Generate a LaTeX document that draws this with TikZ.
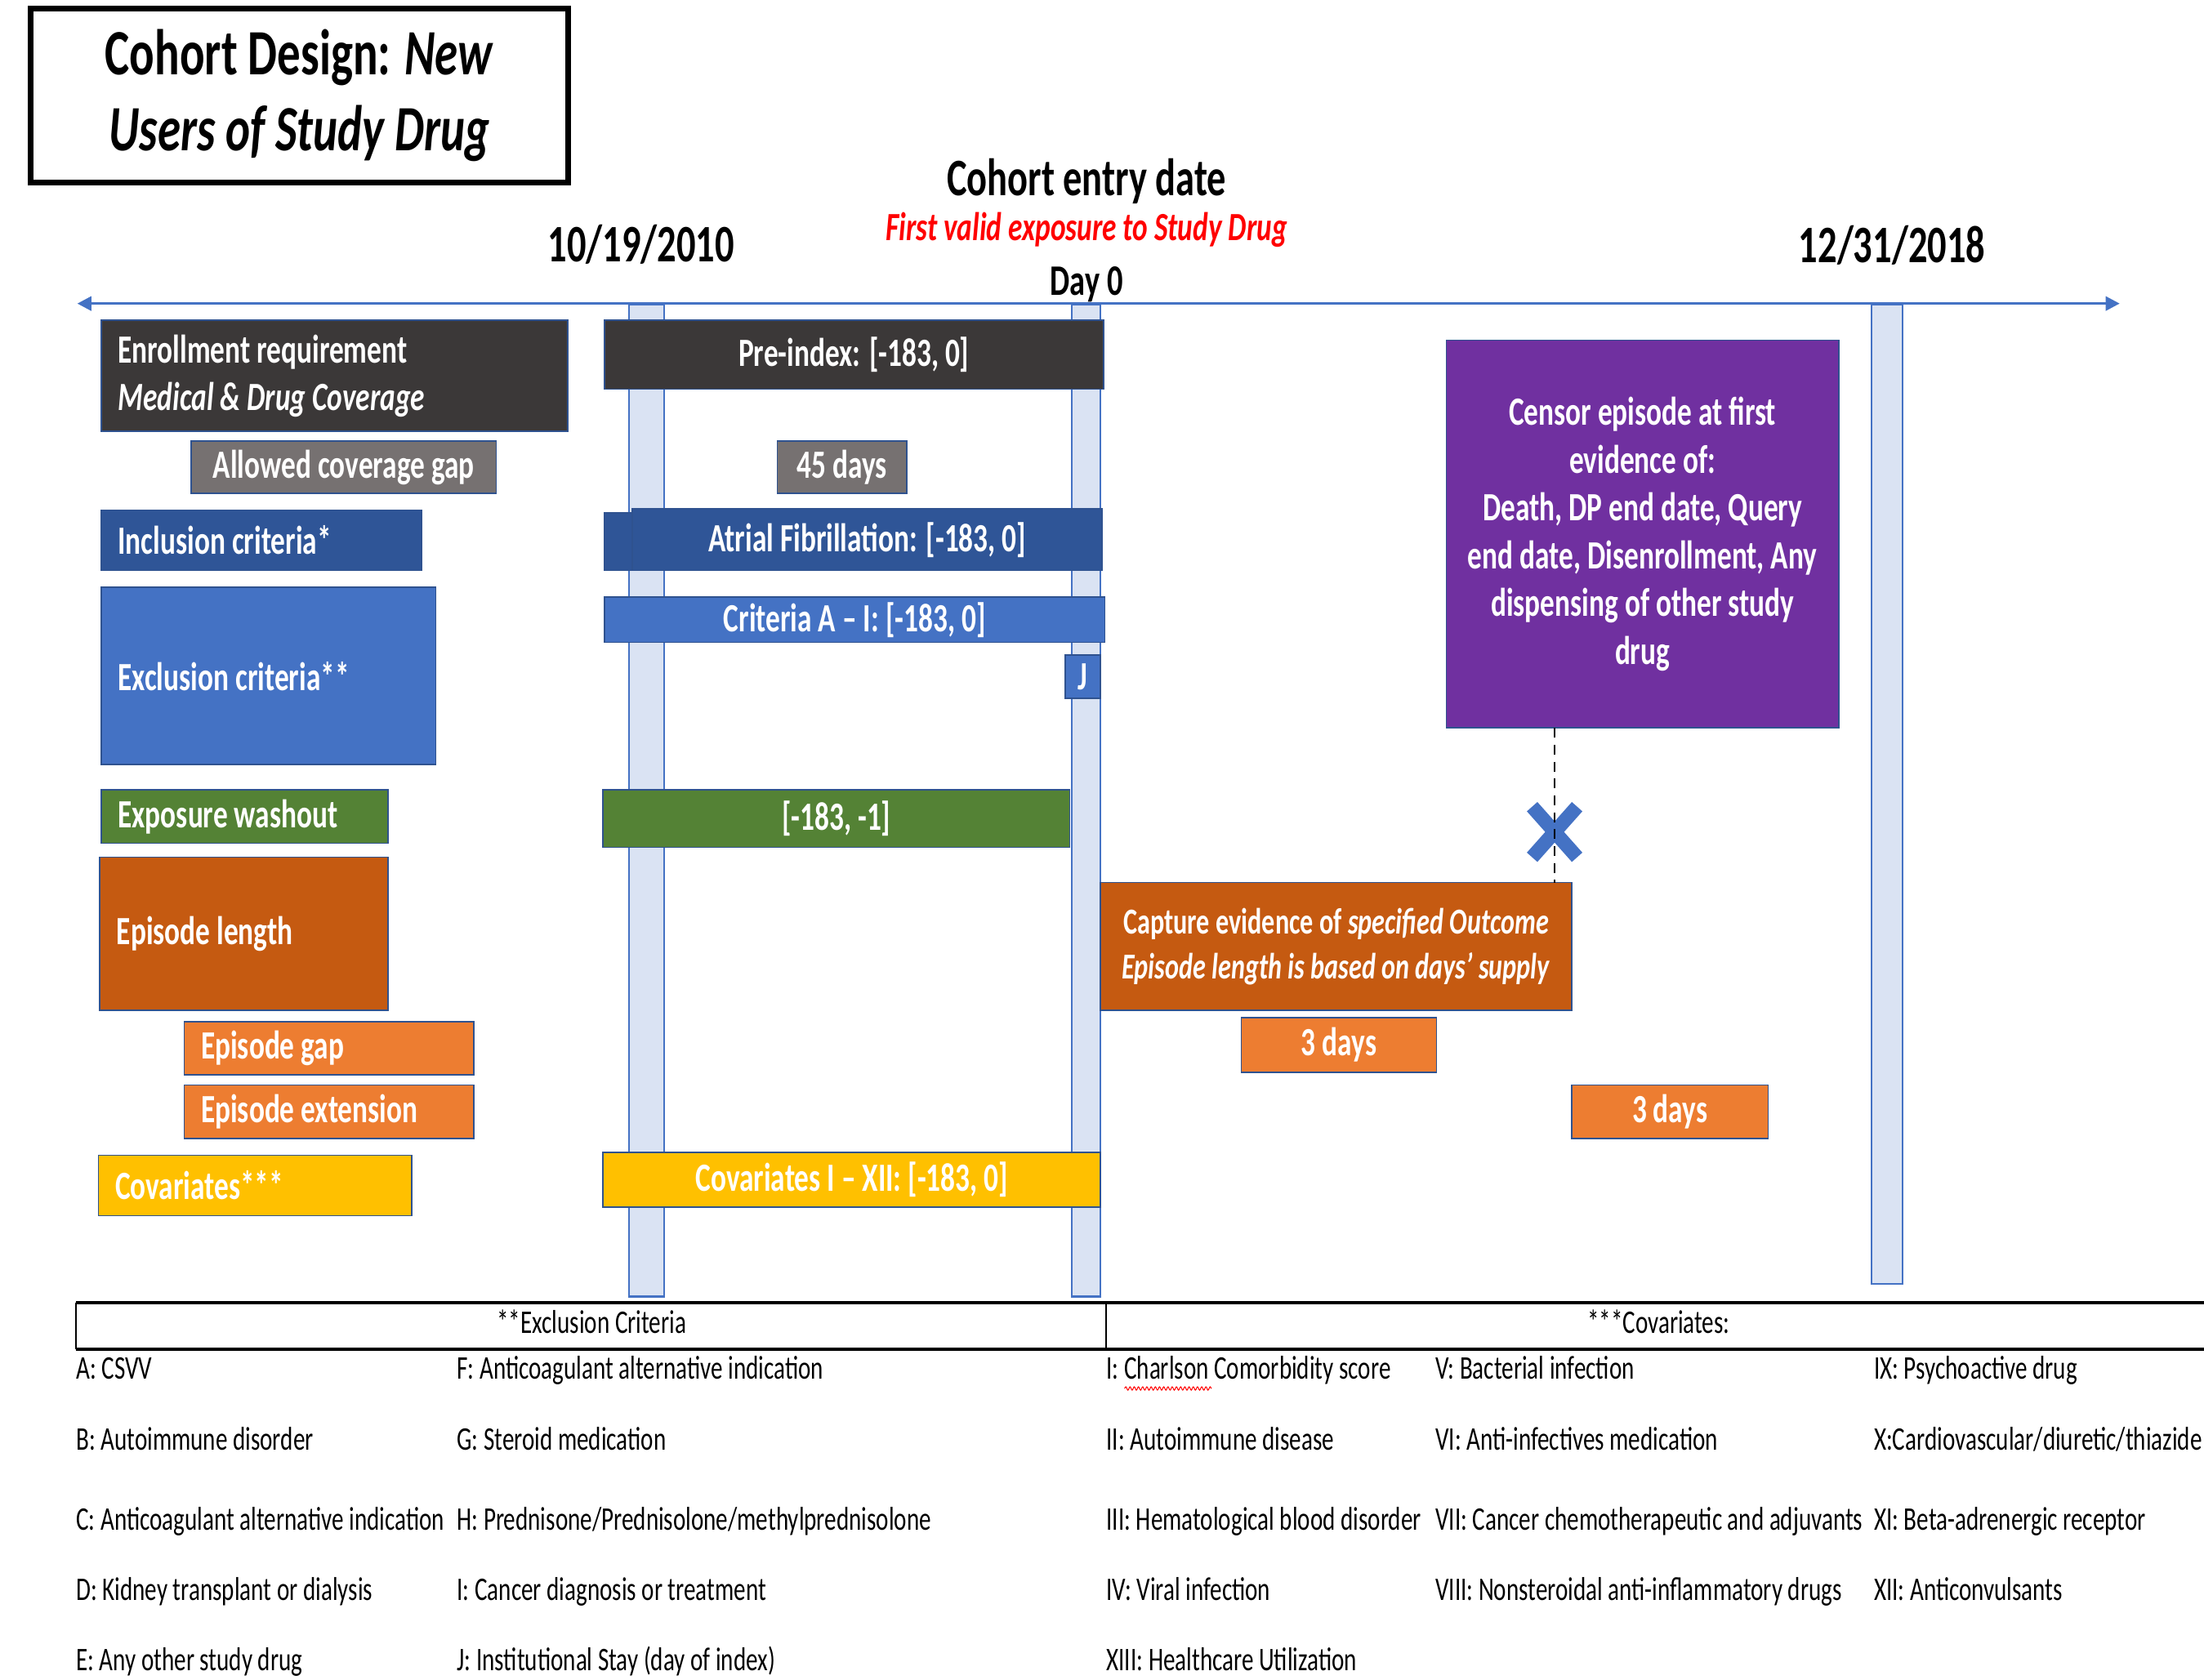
\documentclass[tikz,border=0pt]{standalone}
\usepackage{fontspec}
\setmainfont{Carlito}[FakeStretch=0.72]
\usepackage{tikz}
\usetikzlibrary{arrows.meta, decorations.pathmorphing}

\definecolor{axisblue}{HTML}{4472C4}
\definecolor{edgeblue}{HTML}{2F528F}
\definecolor{barfill}{HTML}{DAE3F3}
\definecolor{darkbox}{HTML}{3B3838}
\definecolor{graybox}{HTML}{767171}
\definecolor{navybox}{HTML}{2F5597}
\definecolor{bluebox}{HTML}{4472C4}
\definecolor{greenbox}{HTML}{548235}
\definecolor{rustbox}{HTML}{C55A11}
\definecolor{orangebox}{HTML}{ED7D31}
\definecolor{goldbox}{HTML}{FFC000}
\definecolor{purplebox}{HTML}{7030A0}
\definecolor{redtext}{HTML}{FF0000}

\newcommand{\boxfont}{\fontsize{28.5}{34}\selectfont\bfseries}
\newcommand{\legfont}{\fontsize{23.5}{28}\selectfont}
\newcommand{\datefont}{\fontsize{37.5}{44}\selectfont\bfseries}

\begin{document}
\begin{tikzpicture}[x=1pt, y=-1pt,
    box/.style={rectangle, draw=edgeblue, line width=1pt, inner sep=0pt, outer sep=0pt, text=white, font=\boxfont, anchor=north west},
    lbox/.style={box, align=flush left},
    vbar/.style={rectangle, draw=axisblue, fill=barfill, line width=1.2pt, inner sep=0pt, anchor=north west},
    leg/.style={anchor=base west, inner sep=0pt, font=\legfont},
    rule/.style={black, line width=2.5pt}]

    \useasboundingbox (0,0) rectangle (1568,1195);

    % title
    \node[draw=black, line width=4pt, minimum width=382pt, minimum height=124pt, anchor=north west, inner sep=0pt,
          font=\fontsize{46}{54}\selectfont\bfseries, align=center] (title) at (20,4)
          {Cohort Design: \textit{New}\\\textit{Users of Study Drug}};

    % dates and index
    \node[anchor=base, font=\datefont] (entry) at (773,139) {Cohort entry date};
    \node[anchor=base, font=\fontsize{28.5}{34}\selectfont\bfseries\itshape, text=redtext] (firstexp) at (773,171) {First valid exposure to Study Drug};
    \node[anchor=base, font=\fontsize{31}{38}\selectfont\bfseries] (day0) at (773,210) {Day 0};
    \node[anchor=base, font=\datefont] (start) at (456,186) {10/19/2010};
    \node[anchor=base, font=\datefont] (end) at (1346,187) {12/31/2018};

    % time bars
    \node[vbar, minimum width=25pt, minimum height=706pt] (barstart) at (447,216) {};
    \node[vbar, minimum width=20pt, minimum height=706pt] (barday0) at (762,216) {};
    \node[vbar, minimum width=22pt, minimum height=697pt] (barend) at (1331,216) {};

    % axis
    \coordinate (axl) at (55,216);
    \coordinate (axr) at (1508,216);
    \draw[axisblue, line width=2pt, {Triangle[length=10pt,width=10pt]}-{Triangle[length=10pt,width=10pt]}] (axl) -- (axr);

    % left column
    \node[lbox, fill=darkbox, minimum width=332pt, minimum height=79pt, text width=308pt] (enroll) at (72,228)
          {Enrollment requirement\\\textit{Medical \& Drug Coverage}};
    \node[box, fill=graybox, minimum width=217pt, minimum height=37pt] (covgap) at (136,314) {Allowed coverage gap};
    \node[lbox, fill=navybox, minimum width=228pt, minimum height=43pt, text width=204pt] (incl) at (72,363) {Inclusion criteria*};
    \node[lbox, fill=bluebox, minimum width=238pt, minimum height=126pt, text width=214pt] (excl) at (72,418) {Exclusion criteria**};
    \node[lbox, fill=greenbox, minimum width=204pt, minimum height=38pt, text width=180pt] (washout) at (72,562) {Exposure washout};
    \node[lbox, fill=rustbox, minimum width=205pt, minimum height=109pt, text width=181pt] (eplength) at (71,610) {Episode length};
    \node[lbox, fill=orangebox, minimum width=206pt, minimum height=38pt, text width=182pt] (epgap) at (131,727) {Episode gap};
    \node[lbox, fill=orangebox, minimum width=206pt, minimum height=38pt, text width=182pt] (epext) at (131,772) {Episode extension};
    \node[lbox, fill=goldbox, minimum width=223pt, minimum height=43pt, text width=199pt] (covar) at (70,822) {Covariates***};

    % windows before index
    \node[box, fill=darkbox, minimum width=355pt, minimum height=49pt] (preidx) at (430,228) {Pre-index: [-183, 0]};
    \node[box, fill=graybox, minimum width=92pt, minimum height=37pt] (gap45) at (553,314) {45 days};
    \node[box, fill=navybox, minimum width=22pt, minimum height=41pt] (afibl) at (430,365) {};
    \node[box, fill=navybox, minimum width=334pt, minimum height=44pt] (afib) at (450,362) {Atrial Fibrillation: [-183, 0]};
    \node[box, fill=bluebox, minimum width=356pt, minimum height=32pt] (critAI) at (430,425) {Criteria A – I: [-183, 0]};
    \node[box, fill=bluebox, minimum width=25pt, minimum height=31pt] (critJ) at (758,466) {J};
    \node[box, fill=greenbox, minimum width=332pt, minimum height=41pt] (wash183) at (429,562) {[-183, -1]};
    \node[box, fill=goldbox, minimum width=354pt, minimum height=39pt] (covar183) at (429,820) {Covariates I – XII: [-183, 0]};

    % follow-up
    \node[box, fill=purplebox, minimum width=279pt, minimum height=276pt, align=center] (censor) at (1029,242)
          {Censor episode at first\\evidence of:\\Death, DP end date, Query\\end date, Disenrollment, Any\\dispensing of other study\\drug};
    \node[box, fill=rustbox, minimum width=335pt, minimum height=91pt, align=center, font=\fontsize{26}{32}\selectfont\bfseries] (capture) at (783,628)
          {Capture evidence of \textit{specified Outcome}\\\textit{Episode length is based on days’ supply}};
    \node[box, fill=orangebox, minimum width=139pt, minimum height=39pt] (days3a) at (883,724) {3 days};
    \node[box, fill=orangebox, minimum width=140pt, minimum height=38pt] (days3b) at (1118,772) {3 days};

    \coordinate (xmark) at (1106,592);
    \draw[axisblue, line width=10pt] (xmark) ++(-16,-18) -- ++(32,36);
    \draw[axisblue, line width=10pt] (xmark) ++(16,-18) -- ++(-32,36);
    \draw[black, line width=1.2pt, dash pattern=on 7pt off 5pt] (censor.south -| xmark) -- (capture.north -| xmark);

    % legend table
    \draw[rule] (54,927) -- (1568,927);
    \draw[rule] (54,960) -- (1568,960);
    \draw[black, line width=1.5pt] (54,927) -- (54,960);
    \draw[black, line width=1.5pt] (787,927) -- (787,960);
    \node[leg, anchor=base] (exhead) at (421,949) {**Exclusion Criteria};
    \node[leg, anchor=base] (cvhead) at (1180,949) {***Covariates:};

    \node[leg] (exA) at (54,981) {A: CSVV};
    \node[leg] (exB) at (54,1032) {B: Autoimmune disorder};
    \node[leg] (exC) at (54,1089) {C: Anticoagulant alternative indication};
    \node[leg] (exD) at (54,1139) {D: Kidney transplant or dialysis};
    \node[leg] (exE) at (54,1189) {E: Any other study drug};
    \node[leg] (exF) at (325,981) {F: Anticoagulant alternative indication};
    \node[leg] (exG) at (325,1032) {G: Steroid medication};
    \node[leg] (exH) at (325,1089) {H: Prednisone/Prednisolone/methylprednisolone};
    \node[leg] (exI) at (325,1139) {I: Cancer diagnosis or treatment};
    \node[leg] (exJ) at (325,1189) {J: Institutional Stay (day of index)};

    \node[leg] (cv1) at (787,981) {I: Charlson Comorbidity score};
    \node[leg] (cv2) at (787,1032) {II: Autoimmune disease};
    \node[leg] (cv3) at (787,1089) {III: Hematological blood disorder};
    \node[leg] (cv4) at (787,1139) {IV: Viral infection};
    \node[leg] (cv13) at (787,1189) {XIII: Healthcare Utilization};
    \node[leg] (cv5) at (1021,981) {V: Bacterial infection};
    \node[leg] (cv6) at (1021,1032) {VI: Anti-infectives medication};
    \node[leg] (cv7) at (1021,1089) {VII: Cancer chemotherapeutic and adjuvants};
    \node[leg] (cv8) at (1021,1139) {VIII: Nonsteroidal anti-inflammatory drugs};
    \node[leg] (cv9) at (1333,981) {IX: Psychoactive drug};
    \node[leg] (cv10) at (1333,1032) {X:Cardiovascular/diuretic/thiazide};
    \node[leg] (cv11) at (1333,1089) {XI: Beta-adrenergic receptor};
    \node[leg] (cv12) at (1333,1139) {XII: Anticonvulsants};
    \draw[red, line width=0.6pt, decorate, decoration={snake, amplitude=1.2pt, segment length=3pt}] (800,988) -- (862,988);
\end{tikzpicture}
\end{document}
